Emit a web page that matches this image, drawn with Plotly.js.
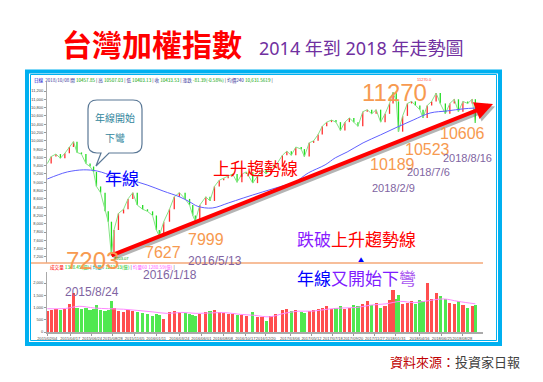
<!DOCTYPE html>
<html>
<head>
<meta charset="utf-8">
<script src="https://cdn.plot.ly/plotly-3.0.1.min.js"></script>
<style>html,body{margin:0;padding:0;background:#fff;}#chart{width:543px;height:382px;}</style>
</head>
<body>
<div id="chart"></div>
<script>
// ---------- DATA ----------
const dates = [
'2015-02-04','2015-02-16','2015-03-03','2015-03-17','2015-03-31','2015-04-14','2015-04-27','2015-05-08','2015-05-22','2015-06-05',
'2015-06-18','2015-06-29','2015-07-08','2015-07-21','2015-08-04','2015-08-14','2015-08-24','2015-09-01','2015-09-15','2015-10-01',
'2015-10-15','2015-10-30','2015-11-13','2015-11-30','2015-12-15','2015-12-31','2016-01-12','2016-01-21','2016-02-04','2016-02-22',
'2016-03-08','2016-03-24','2016-04-11','2016-04-25','2016-05-05','2016-05-13','2016-05-27','2016-06-15','2016-06-28','2016-07-12',
'2016-07-27','2016-08-10','2016-08-24','2016-09-07','2016-09-21','2016-10-06','2016-10-20','2016-11-09','2016-11-24','2016-12-08',
'2016-12-21','2017-01-05','2017-01-20','2017-02-10','2017-02-24','2017-03-10','2017-03-24','2017-04-10','2017-04-20','2017-05-05',
'2017-05-19','2017-06-02','2017-06-15','2017-06-29','2017-07-14','2017-07-28','2017-08-11','2017-08-25','2017-09-08','2017-09-22',
'2017-10-05','2017-10-20','2017-11-03','2017-11-17','2017-12-01','2017-12-15','2017-12-29','2018-01-12','2018-01-23','2018-02-02',
'2018-02-09','2018-02-22','2018-03-09','2018-03-22','2018-04-03','2018-04-17','2018-04-27','2018-05-10','2018-05-24','2018-06-07',
'2018-06-20','2018-07-06','2018-07-20','2018-08-03','2018-08-16','2018-08-30','2018-09-14','2018-09-28','2018-10-08'
];
const closes = [
9450,9620,9680,9580,9700,9850,9980,9720,9680,9450,
9380,9250,8900,8750,8300,8050,7230,7850,8250,8350,
8600,8750,8450,8350,8300,8200,7850,7700,8050,8350,
8650,8750,8600,8450,8200,8060,8450,8650,8550,8900,
9050,9100,9150,9200,9000,9200,9250,8980,9150,9300,
9200,9350,9400,9650,9750,9650,9850,9800,9620,9950,
10000,10150,10350,10450,10500,10450,10250,10450,10550,10450,
10350,10700,10750,10650,10750,10450,10650,10900,11170,10950,
10220,10600,10900,10950,10850,10750,10550,10850,10950,11150,
10900,10650,10900,11000,10700,10950,10900,11000,10430
];
const volumes = [
850,900,950,880,920,1150,1600,1000,950,980,
900,950,1100,900,850,900,1250,1000,850,800,
900,850,800,780,750,650,750,700,550,800,
850,820,780,750,700,650,720,800,850,900,
820,780,750,720,700,700,650,800,620,600,
450,650,750,900,950,850,900,800,780,850,
900,950,1000,1050,950,1000,1050,950,1000,1100,
1050,1150,1250,1100,1200,1000,1050,1300,1700,1350,
1500,1150,1200,1250,1150,1300,1250,2000,1350,1600,
1450,1350,1200,1150,1250,1100,1000,1050,1100
];
// 240-day moving average (年線)
const maDates = ['2015-02-04','2015-03-10','2015-04-08','2015-05-28','2015-07-11','2015-08-30','2015-10-22','2015-12-14','2016-02-02','2016-03-26',
'2016-04-26','2016-05-21','2016-07-05','2016-08-24','2016-10-10','2016-12-09','2017-02-01','2017-03-22','2017-05-02','2017-06-24',
'2017-07-26','2017-09-01','2017-10-21','2017-12-14','2018-02-05','2018-03-27','2018-05-19','2018-07-12','2018-08-31','2018-10-08'];
const maValues = [9080,9180,9250,9300,9270,9150,9055,8935,8790,8645,
8525,8420,8380,8500,8620,8765,8890,9010,9225,9420,
9590,9730,9950,10140,10330,10500,10670,10720,10770,10790];
// 60-day volume average
const vmaDates = ['2015-02-04','2015-04-01','2015-05-15','2015-07-01','2015-08-15','2015-10-01','2015-11-15','2016-01-01','2016-02-15','2016-04-01',
'2016-05-15','2016-07-01','2016-08-15','2016-10-01','2016-11-15','2017-01-01','2017-02-15','2017-04-01','2017-05-15','2017-07-01',
'2017-08-15','2017-10-01','2017-11-15','2018-01-01','2018-02-15','2018-04-01','2018-05-15','2018-07-01','2018-08-15','2018-10-08'];
const vmaValues = [950,960,1050,980,950,930,880,820,760,800,
760,780,790,720,680,620,760,850,850,930,
980,1000,1100,1150,1250,1200,1280,1350,1250,1150];
const tickLabels = ['2015/02/04','2015/04/17','2015/06/24','2015/08/28','2015/11/05','2016/01/11','2016/03/24','2016/06/01','2016/08/08','2016/10/17',
'2016/12/20','2017/03/06','2017/05/12','2017/07/18','2017/09/20','2017/11/27','2018/01/31','2018/04/16','2018/06/25','2018/08/28'];
const priceTicks = [7200,7400,7600,7800,8000,8200,8400,8600,8800,9000,9200,9400,9600,9800,10000,10200,10400,10600,10800,11000,11200];
const volTicks = [0,500,1000,1500,2000];

// ---------- derived ----------
const opens = closes.map((c,i)=> i===0 ? c : closes[i-1]);
const highs = closes.map((c,i)=> Math.max(c, opens[i]));
const lows = closes.map((c,i)=> Math.min(c, opens[i]));
const volColors = closes.map((c,i)=> c >= opens[i] ? '#ff3b3b' : '#3ee63e');
const tickVals = tickLabels.map(s=>s.replace(/\//g,'-'));

// ---------- pixel helpers for layout items ----------
const L=47, T=82, W=436, H=250;
const fx = p => (p-L)/W;
const fy = p => (T+H-p)/H;
const CJK = '"Noto Sans CJK TC", "Noto Sans CJK SC", "Noto Sans", sans-serif';
const LATCJK = '"Noto Sans", "Noto Sans CJK TC", sans-serif';
const NAR = '"Liberation Sans Narrow", "Liberation Sans", Arial, sans-serif';
function ann(text, x, y, size, color, o){
  return Object.assign({text:text, xref:'paper', yref:'paper', x:fx(x), y:fy(y), showarrow:false,
    xanchor:'center', yanchor:'middle', font:{size:size, color:color, family:CJK}}, o||{});
}
function num(text, x, y, size, color){
  return ann(text, x, y, size, color, {font:{size:size, color:color, family:NAR}});
}
function pathPx(cmds){
  return cmds.map(c=> typeof c === 'string' ? c : fx(c[0]).toFixed(5)+','+fy(c[1]).toFixed(5)).join(' ');
}

const traces = [
  {type:'scatter', mode:'lines', x:dates, y:closes, xaxis:'x', yaxis:'y',
   line:{color:'#86e486', width:1}, hoverinfo:'skip', showlegend:false},
  {type:'ohlc', x:dates, open:opens, high:highs, low:lows, close:closes, xaxis:'x', yaxis:'y', tickwidth:0,
   increasing:{line:{color:'#ff3030', width:1.3}},
   decreasing:{line:{color:'#22dd22', width:1.3}},
   hoverinfo:'skip', showlegend:false},
  {type:'scatter', mode:'lines', x:maDates, y:maValues, xaxis:'x', yaxis:'y',
   line:{color:'#6060ff', width:1, shape:'spline'}, hoverinfo:'skip', showlegend:false},
  {type:'bar', x:dates, y:volumes, xaxis:'x', yaxis:'y2', width: dates.map(()=>10*86400000),
   marker:{color:volColors, line:{width:0}}, opacity:0.9, hoverinfo:'skip', showlegend:false},
  {type:'scatter', mode:'lines', x:vmaDates, y:vmaValues, xaxis:'x', yaxis:'y2',
   line:{color:'#ff88ff', width:1, shape:'spline'}, hoverinfo:'skip', showlegend:false}
];

const bubble = pathPx(['M',[97,100],'L',[133,100],'Q',[142,100],[142,109],'L',[142,144],'Q',[142,153],[133,153],
  'L',[109,153],'L',[96,166],'L',[101,153],'L',[97,153],'Q',[88,153],[88,144],'L',[88,109],'Q',[88,100],[97,100],'Z']);

const shapes = [
  {type:'rect', xref:'paper', yref:'paper', x0:fx(27), x1:fx(500), y0:fy(344), y1:fy(71.5), line:{color:'#00b0f0', width:4}},
  {type:'rect', xref:'paper', yref:'paper', x0:fx(30.5), x1:fx(496.5), y0:fy(340.5), y1:fy(74.5), line:{color:'#00b0f0', width:1}},
  {type:'line', xref:'paper', yref:'paper', x0:fx(31), x1:fx(483), y0:fy(263), y1:fy(263), line:{color:'#f4a878', width:1.5}},
  {type:'path', xref:'paper', yref:'paper', path:bubble, line:{color:'#5a7896', width:1.2}, fillcolor:'rgba(255,255,255,0.95)'}
];

const hdr = '<span style="color:#0000cc">日線</span>  <span style="color:#333399">2018/10/08 開</span> <span style="color:#00a000">10457.85</span> | <span style="color:#333399">高</span> <span style="color:#00a000">10507.03</span> | <span style="color:#333399">低</span> <span style="color:#00a000">10403.13</span> | <span style="color:#333399">收</span> <span style="color:#00a000">10433.53</span> | <span style="color:#333399">漲跌</span> <span style="color:#00a000">-81.39(-0.58%)</span> | <span style="color:#333399">均價240</span> <span style="color:#00a000">10,631.5619</span> |';
const vhdr = '<span style="color:#ff0000">成交量</span> <span style="color:#00c000">1348.45(億)</span> | <span style="color:#00aaaa">均量5</span> <span style="color:#00c000">1211.33(億)</span> | <span style="color:#ff55ff">均量60</span> <span style="color:#ff55ff">1280.59(億)</span> |';

const orange = '#f79a50', purple = '#8064a2';
const annotations = [
  ann('<b>台灣加權指數</b>', 152, 43, 30, '#ff0000'),
  ann('2014 年到 2018 年走勢圖', 361, 48, 18, '#7030a0', {font:{size:18, color:'#7030a0', family:LATCJK}}),
  ann(hdr, 32, 80, 4.6, '#333', {xanchor:'left'}),
  ann(vhdr, 48, 267, 4.6, '#333', {xanchor:'left'}),
  // trend arrow shadow + arrow
  {xref:'paper', yref:'paper', x:fx(495), y:fy(106.5), ax:-383, ay:152, text:'', showarrow:true,
   arrowhead:2, arrowsize:0.9, arrowwidth:4, arrowcolor:'rgba(90,90,90,0.45)', standoff:0},
  {xref:'paper', yref:'paper', x:fx(493), y:fy(104), ax:-383, ay:152, text:'', showarrow:true,
   arrowhead:2, arrowsize:0.9, arrowwidth:4, arrowcolor:'#ff0000', standoff:0},
  // bubble text
  ann('年線開始', 115, 117, 10, '#31859c'),
  ann('下彎', 115, 137, 10, '#31859c'),
  ann('年線', 122, 177, 17, '#0000ff'),
  ann('上升趨勢線', 255, 167, 17, '#ff0000'),
  ann('<span style="color:#8a1cff">跌破</span><span style="color:#ff0000">上升趨勢線</span>', 356, 238, 17, '#ff0000'),
  ann('<span style="color:#0000ff">年線</span><span style="color:#7f1cff">又開始下</span><span style="color:#a855f0">彎</span>', 356, 277, 17, '#0000ff'),
  ann('▲', 361, 259, 6, '#0000ff'),
  // orange values
  num('11270', 394, 92, 24, orange),
  num('10189', 392, 164, 16, orange),
  num('10523', 427, 149, 16, orange),
  num('10606', 462, 133, 16, orange),
  num('7203', 92, 260, 24, orange),
  num('7627', 163, 253, 16, orange),
  num('7999', 206, 239, 16, orange),
  // purple dates
  num('2018/2/9', 393, 188, 11, purple),
  num('2018/7/6', 428, 172, 11, purple),
  num('2018/8/16', 467, 158, 11, purple),
  num('2016/1/18', 170, 275, 12, purple),
  num('2016/5/13', 215, 261, 12, purple),
  num('2015/8/24', 92, 292, 12, purple),
  num('7203.07', 121, 258, 4, '#00a000'),
  num('11270.0', 424, 79, 4, '#ff4444'),
  // source
  ann('<span style="color:#c00000">資料來源：</span><span style="color:#404040">投資家日報</span>', 522, 361, 13, '#404040', {xanchor:'right'})
];

const axFont = {size:4, color:'#444', family:'"Liberation Sans", Arial, sans-serif'};
const layout = {
  width:543, height:382, margin:{l:L, r:543-L-W, t:T, b:382-T-H},
  paper_bgcolor:'#ffffff', plot_bgcolor:'rgba(0,0,0,0)', showlegend:false, bargap:0, barmode:'overlay',
  xaxis:{type:'date', range:['2015-02-03','2018-11-01'], anchor:'y2', tickvals:tickVals, ticktext:tickLabels,
    tickfont:axFont, tickangle:0, ticks:'outside', ticklen:2, tickcolor:'#999', showline:true, linecolor:'#aaaaaa', linewidth:1.5,
    showgrid:false, zeroline:false, rangeslider:{visible:false}, fixedrange:true},
  yaxis:{domain:[fy(263), 1], range:[7055, 11417], tickvals:priceTicks, tickformat:',d', tickfont:axFont,
    ticks:'outside', ticklen:2, tickcolor:'#999', showline:true, linecolor:'#aaaaaa', linewidth:1, showgrid:false, zeroline:false},
  yaxis2:{domain:[0, fy(272)], range:[0, 2450], tickvals:volTicks, tickformat:',d', tickfont:axFont,
    ticks:'outside', ticklen:2, tickcolor:'#999', showline:true, linecolor:'#aaaaaa', linewidth:1, showgrid:false, zeroline:false},
  shapes:shapes, annotations:annotations
};
Plotly.newPlot('chart', traces, layout, {staticPlot:true, displayModeBar:false});
</script>
</body>
</html>
